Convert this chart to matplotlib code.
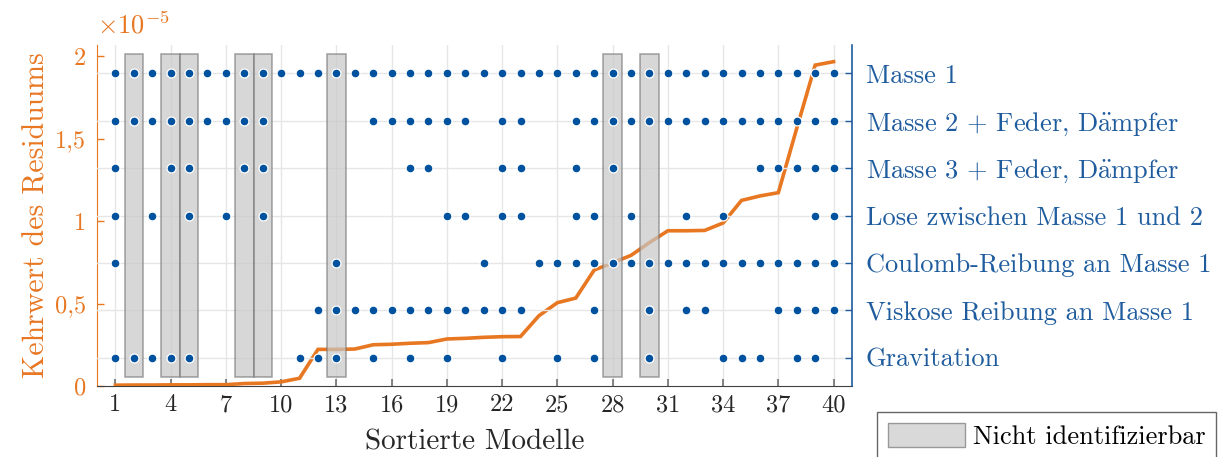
import matplotlib
matplotlib.use("Agg")
import matplotlib.pyplot as plt
from matplotlib.patches import Patch, Rectangle
from matplotlib.ticker import FuncFormatter

plt.rcParams['font.family'] = ['cmr10', 'DejaVu Serif']
plt.rcParams['mathtext.fontset'] = 'cm'
plt.rcParams['axes.unicode_minus'] = False

# ---------------- data ----------------
models = list(range(1, 41))
residual_e5 = [0.005, 0.006, 0.006, 0.007, 0.007, 0.008, 0.008, 0.015, 0.017, 0.025,
               0.047, 0.222, 0.222, 0.224, 0.250, 0.253, 0.259, 0.263, 0.285, 0.289,
               0.295, 0.299, 0.300, 0.426, 0.505, 0.533, 0.703, 0.747, 0.792, 0.869,
               0.941, 0.941, 0.943, 0.988, 1.125, 1.152, 1.172, 1.562, 1.945, 1.966]

categories = ["Gravitation",
              "Viskose Reibung an Masse 1",
              "Coulomb-Reibung an Masse 1",
              "Lose zwischen Masse 1 und 2",
              r"Masse 3 + Feder, D$\ddot{\mathrm{a}}$mpfer",
              r"Masse 2 + Feder, D$\ddot{\mathrm{a}}$mpfer",
              "Masse 1"]

row_gravitation = [1, 2, 3, 4, 5, 11, 12, 13, 15, 17, 19, 22, 25, 27, 30, 34, 35, 36, 38, 39]
row_viskose = [12, 13, 14, 15, 16, 17, 18, 19, 20, 21, 22, 23, 27, 30, 32, 33, 37, 38, 39, 40]
row_coulomb = [1, 13, 21, 24, 25, 26, 27, 28, 29, 30, 31, 32, 33, 34, 35, 36, 37, 38, 39, 40]
row_lose = [1, 3, 5, 7, 9, 19, 20, 22, 23, 26, 27, 29, 32, 34, 39, 40]
row_masse3 = [1, 4, 5, 8, 9, 17, 18, 22, 23, 26, 28, 36, 37, 38, 39, 40]
row_masse2 = [1, 2, 3, 4, 5, 6, 7, 8, 9, 15, 16, 17, 18, 19, 20, 22, 23, 26, 27, 28,
              29, 30, 31, 32, 33, 34, 35, 36, 37, 38, 39, 40]
row_masse1 = [1, 2, 3, 4, 5, 6, 7, 8, 9, 10, 11, 12, 13, 14, 15, 16, 17, 18, 19, 20,
              21, 22, 23, 24, 25, 26, 27, 28, 29, 30, 31, 32, 33, 34, 35, 36, 37, 38, 39, 40]
rows = [row_gravitation, row_viskose, row_coulomb, row_lose, row_masse3, row_masse2, row_masse1]

not_identifiable = [2, 4, 5, 8, 9, 13, 28, 30]
x_ticks = [1, 4, 7, 10, 13, 16, 19, 22, 25, 28, 31, 34, 37, 40]
y_ticks = [0, 0.5, 1, 1.5, 2]

# ---------------- style ----------------
ORANGE = '#E87722'
BLUE = '#00529F'
LBLUE = '#1F5C9E'
GRID = '#E6E6E6'
DARK = '#404040'

fig = plt.figure(figsize=(12.21, 4.57), dpi=100)
ax = fig.add_axes([97 / 1221, 71 / 457, 755 / 1221, 341 / 457])
ax2 = ax.twinx()

# left axis: residual line
ax.plot(models, residual_e5, color=ORANGE, lw=2.6, solid_joinstyle='miter', zorder=3)
ax.set_xlim(0, 41)
ax.set_ylim(0, 2.067)
ax.set_yticks(y_ticks)
ax.yaxis.set_major_formatter(FuncFormatter(lambda v, p: ('%g' % v).replace('.', ',')))
ax.set_xticks(x_ticks)
ax.tick_params(axis='x', direction='in', length=5, width=1.2, color='#707070',
               labelsize=17.5, labelcolor='#262626', pad=6)
ax.tick_params(axis='y', direction='in', length=5, width=1.0, color=ORANGE,
               labelsize=17.5, labelcolor=ORANGE, pad=8)
ax.set_ylabel("Kehrwert des Residuums", color=ORANGE, fontsize=21.5, labelpad=3)
ax.set_xlabel("Sortierte Modelle", fontsize=21, color='#262626', labelpad=9)
ax.text(0.0, 1.02, r'$\times 10^{-5}$', transform=ax.transAxes, color=ORANGE,
        fontsize=19, ha='left', va='bottom')
ax.grid(axis='x', color=GRID, lw=1.0)
ax.set_axisbelow(True)
ax.spines['left'].set_color(ORANGE)
ax.spines['bottom'].set_color(DARK)
ax.spines['top'].set_visible(False)
ax.spines['right'].set_visible(False)

# right axis: rectangles + dots
ax2.set_ylim(0.4, 7.6)
ax2.set_yticks(range(1, len(categories) + 1))
ax2.set_yticklabels(categories)
ax2.tick_params(axis='y', direction='in', length=5, width=1.0, color=LBLUE,
                labelsize=19, labelcolor=LBLUE, pad=10)
ax2.grid(axis='y', color=GRID, lw=1.0, zorder=0)
ax2.set_axisbelow(True)
for sp in ['left', 'top', 'bottom']:
    ax2.spines[sp].set_visible(False)
ax2.spines['right'].set_color(LBLUE)
ax2.spines['right'].set_linewidth(1.2)

for m in not_identifiable:
    ax2.add_patch(Rectangle((m - 0.5, 0.6), 1.0, 6.8, facecolor=(0.78, 0.78, 0.78, 0.7),
                            edgecolor=(0.45, 0.45, 0.45, 0.6), lw=1.2, zorder=2))

for i, r in enumerate(rows):
    ax2.plot(r, [i + 1] * len(r), linestyle='none', marker='o', markersize=6.4,
             markerfacecolor=BLUE, markeredgecolor='white', markeredgewidth=0.9, zorder=4)

leg = fig.legend(handles=[Patch(facecolor=(0.85, 0.85, 0.85), edgecolor=(0.6, 0.6, 0.6),
                                label='Nicht identifizierbar')],
                 loc='upper left', bbox_to_anchor=(877 / 1221, 1 - 412 / 457),
                 fontsize=19, frameon=True, fancybox=False, handlelength=2.9,
                 handleheight=1.0, borderaxespad=0, borderpad=0.42, handletextpad=0.3)
leg.get_frame().set_edgecolor('#404040')
leg.get_frame().set_linewidth(1.0)

fig.savefig('out.png', dpi=100)
